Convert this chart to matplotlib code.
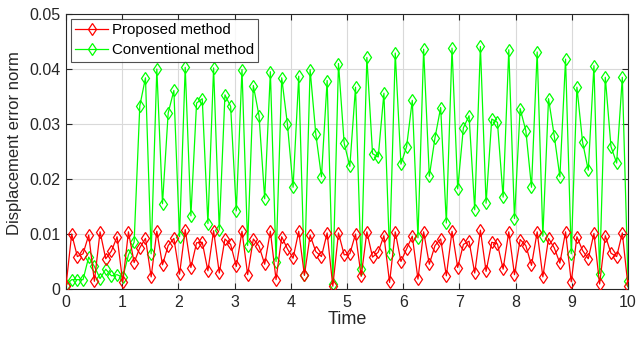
import numpy as np
import matplotlib
matplotlib.use("Agg")
import matplotlib.pyplot as plt

plt.rcParams['font.family'] = ['Liberation Sans', 'DejaVu Sans']

n_points = 100
t_start, t_end = 0, 10

proposed = [0.0006, 0.0100, 0.0059, 0.0064, 0.0098, 0.0014, 0.0104, 0.0055, 0.0069, 0.0095,
            0.0012, 0.0104, 0.0048, 0.0075, 0.0092, 0.0022, 0.0105, 0.0044, 0.0079, 0.0092,
            0.0027, 0.0108, 0.0039, 0.0084, 0.0085, 0.0033,
            0.0106, 0.0029, 0.0091, 0.0081, 0.0041, 0.0105, 0.0026, 0.0091, 0.0078, 0.0045,
            0.0105, 0.0017, 0.0095, 0.0073, 0.0056, 0.0105, 0.0025, 0.0098, 0.0068, 0.0059,
            0.0102, 0.0005, 0.0102, 0.0062, 0.0064,
            0.0100, 0.0023, 0.0104, 0.0058, 0.0067, 0.0097, 0.0012, 0.0104, 0.0050, 0.0073,
            0.0096, 0.0018, 0.0104, 0.0045, 0.0079, 0.0091, 0.0024, 0.0105, 0.0039, 0.0081,
            0.0087, 0.0029, 0.0107, 0.0032,
            0.0085, 0.0082, 0.0036, 0.0104, 0.0026, 0.0090, 0.0079, 0.0043, 0.0104, 0.0022,
            0.0092, 0.0075, 0.0047, 0.0104, 0.0013, 0.0095, 0.0070, 0.0055, 0.0101, 0.0009,
            0.0097, 0.0065, 0.0059, 0.0102, 0.0005]

conventional = [0.0007, 0.0017, 0.0017, 0.0017, 0.0058, 0.0041, 0.0019, 0.0036, 0.0024, 0.0026,
                0.0021, 0.0062, 0.0085, 0.0333, 0.0384, 0.0064, 0.0400, 0.0155, 0.0320, 0.0361,
                0.0095, 0.0403, 0.0133, 0.0338, 0.0346, 0.0119,
                0.0402, 0.0107, 0.0353, 0.0332, 0.0142, 0.0399, 0.0079, 0.0370, 0.0315, 0.0164,
                0.0395, 0.0050, 0.0384, 0.0300, 0.0185, 0.0387, 0.0025, 0.0399, 0.0282, 0.0204,
                0.0379, 0.0010, 0.0410, 0.0265, 0.0223,
                0.0367, 0.0036, 0.0421, 0.0246, 0.0240, 0.0356, 0.0064, 0.0429, 0.0227, 0.0259,
                0.0343, 0.0093, 0.0436, 0.0205, 0.0275, 0.0330, 0.0120, 0.0438, 0.0182, 0.0293,
                0.0315, 0.0144, 0.0441, 0.0156,
                0.0309, 0.0303, 0.0167, 0.0435, 0.0128, 0.0328, 0.0288, 0.0185, 0.0431, 0.0096,
                0.0346, 0.0279, 0.0204, 0.0418, 0.0064, 0.0367, 0.0267, 0.0216, 0.0406, 0.0028,
                0.0385, 0.0259, 0.0229, 0.0385, 0.0014]

x_ticks = [0, 1, 2, 3, 4, 5, 6, 7, 8, 9, 10]
y_ticks = [0, 0.01, 0.02, 0.03, 0.04, 0.05]
y_tick_labels = ['0', '0.01', '0.02', '0.03', '0.04', '0.05']

t = np.linspace(t_start, t_end, n_points)

fig = plt.figure(figsize=(6.36, 3.43), dpi=100)
ax = fig.add_axes([66/636, 1 - 289/343, (628-66)/636, (289-14)/343])

ax.plot(t, proposed, color='#ff0000', lw=0.9, marker='d', ms=6.5, mfc='none',
        mec='#ff0000', mew=0.9, label='Proposed method', zorder=3)
ax.plot(t, conventional, color='#00ff00', lw=0.9, marker='d', ms=6.5, mfc='none',
        mec='#00ff00', mew=0.9, label='Conventional method', zorder=2)

ax.set_xlim(0, 10)
ax.set_ylim(0, 0.05)
ax.set_xticks(x_ticks)
ax.set_yticks(y_ticks)
ax.set_yticklabels(y_tick_labels)
ax.grid(True, color='#d9d9d9', lw=0.8)
ax.set_axisbelow(True)
ax.tick_params(direction='in', top=True, right=True, length=4, width=0.8,
               labelsize=11.5, colors='#262626', pad=4)
for s in ax.spines.values():
    s.set_color('#262626')
    s.set_linewidth(0.8)

ax.set_xlabel('Time', fontsize=13, color='#262626', labelpad=1)
ax.set_ylabel('Displacement error norm', fontsize=12, color='#262626', labelpad=4)
ax.yaxis.set_label_coords(-0.078, 0.53)

leg = ax.legend(loc='upper left', fontsize=10.8, frameon=True, fancybox=False,
                edgecolor='#262626', borderpad=0.3, handlelength=2.2,
                handletextpad=0.25, labelspacing=0.4, borderaxespad=0.3)
leg.get_frame().set_linewidth(0.8)

fig.savefig('out.png', dpi=100)
